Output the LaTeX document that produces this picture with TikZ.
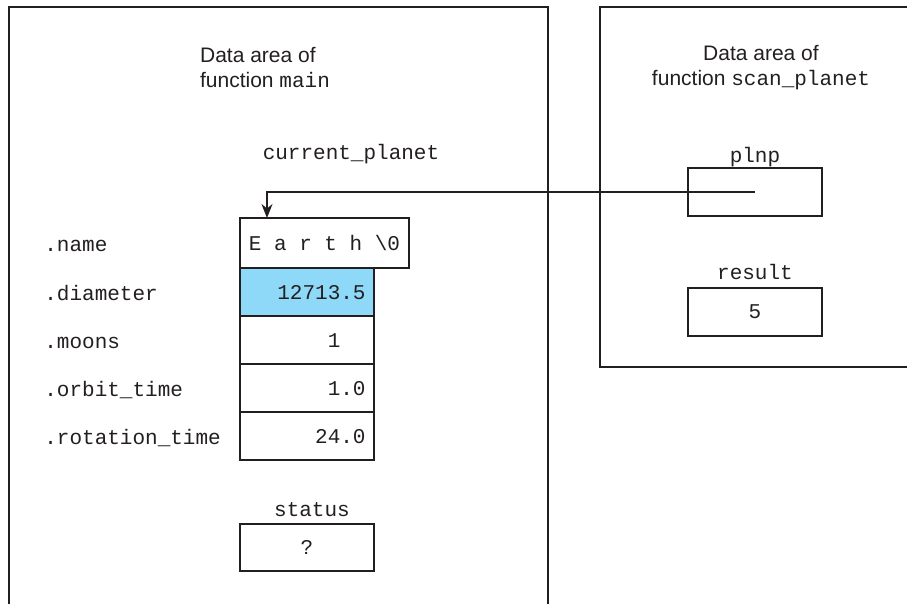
\documentclass[tikz,border=0pt]{standalone}
\usepackage{fontspec}
\setsansfont{Liberation Sans}
\setmonofont{Liberation Mono}
\usetikzlibrary{arrows.meta,positioning,calc}
\definecolor{ink}{HTML}{231F20}
\definecolor{cellblue}{HTML}{8ED8F8}
\newcommand{\codefont}{\ttfamily\fontsize{10.5}{12.5}\selectfont}
\newcommand{\headfont}{\sffamily\fontsize{10.5}{12.5}\selectfont}
\tikzset{
  frame/.style={draw=ink,line width=1pt},
  cell/.style={draw=ink,line width=1pt,fill=#1,minimum width=67pt,minimum height=24pt,
               inner sep=0pt,outer sep=0pt,font=\codefont,text=ink},
  cell/.default=white,
  var/.style={font=\codefont,text=ink,inner sep=1pt,text height=8.5pt,text depth=0.5pt},
  fld/.style={font=\codefont,text=ink,anchor=west,inner sep=0pt,text height=9pt,text depth=0.5pt},
  head/.style={font=\headfont,text=ink,inner sep=0pt},
  ptr/.style={-{Stealth[length=7pt,width=5.5pt]},draw=ink,line width=0.9pt},
}
\begin{document}
\begin{tikzpicture}[x=0.5pt,y=-0.5pt]
  \useasboundingbox (0,0) rectangle (907,604);
  % the two data areas
  \draw[frame] (9,604) -- (9,7) -- (548,7) -- (548,604);
  \draw[frame] (907,7) -- (600,7) -- (600,367) -- (907,367);
  \node[head,align=left]   (mainhd) at (265,67.5) {Data area of\\function \texttt{main}};
  \node[head,align=center] (scanhd) at (761,67.5) {Data area of\\function \texttt{scan\_planet}};
  % structure current_planet
  \node[var] (curlbl) at (351,152) {current\_planet};
  \node[cell,minimum width=84.5pt,minimum height=25pt] (name) at (324.5,243) {E a r t h \textbackslash 0};
  \node[cell=cellblue,anchor=north west] (diam) at (name.south west) {};
  \node[cell,below=0pt of diam] (moons) {};
  \node[cell,below=0pt of moons] (orbit) {};
  \node[cell,below=0pt of orbit] (rot) {};
  \node[var,anchor=east] at ([xshift=-3pt]diam.east)   {12713.5};
  \node[var,anchor=east] at ([xshift=-15.5pt]moons.east) {1};
  \node[var,anchor=east] at ([xshift=-3pt]orbit.east)  {1.0};
  \node[var,anchor=east] at ([xshift=-3pt]rot.east)    {24.0};
  \foreach \c/\f in {name/name,diam/diameter,moons/moons,orbit/orbit\_time,rot/rotation\_time}
    \node[fld] (f\c) at (44,0 |- \c.west) {.\f};
  % status
  \node[var] (statlbl) at (312,509) {status};
  \node[cell,minimum height=23.5pt] (status) at (307,547.5) {?};
  % locals of scan_planet
  \node[var] (plnplbl) at (755,155) {plnp};
  \node[cell] (plnp) at (755,192) {};
  \node[var] (reslbl) at (755,272) {result};
  \node[cell] (result) at (755,312) {5};
  \draw[ptr] (plnp.center) -| ([xshift=13.5pt]name.north west);
\end{tikzpicture}
\end{document}
